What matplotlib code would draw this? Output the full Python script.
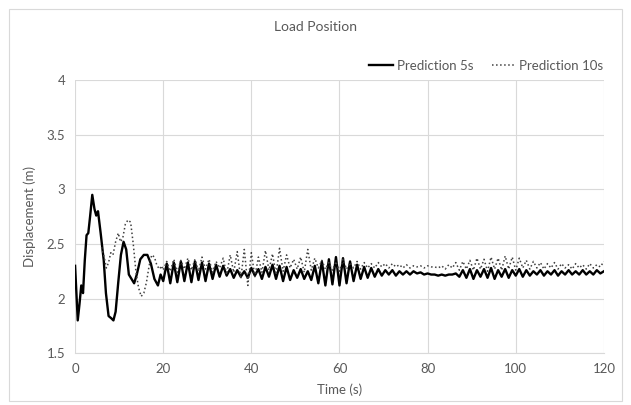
import matplotlib.pyplot as plt
from matplotlib.patches import Rectangle
import numpy as np

# early transient
t5_early = [0, 0.6, 1.0, 1.4, 1.8, 2.2, 2.6, 3.0, 3.4, 3.9, 4.4, 4.8, 5.2, 5.8,
            6.5, 7.0, 7.6, 8.2, 8.7, 9.2, 9.8, 10.4, 11.0, 11.6, 12.2, 12.8,
            13.4, 14.0, 14.8, 15.6, 16.4, 17.2, 18.0, 18.8, 19.4]
y5_early = [2.30, 1.80, 1.95, 2.12, 2.05, 2.35, 2.58, 2.60, 2.75, 2.95, 2.82,
            2.76, 2.80, 2.60, 2.35, 2.05, 1.84, 1.82, 1.80, 1.88, 2.15, 2.40,
            2.52, 2.45, 2.22, 2.18, 2.14, 2.22, 2.36, 2.40, 2.40, 2.32, 2.18,
            2.12, 2.22]

t10_early = [6.0, 6.6, 7.1, 7.6, 8.1, 8.6, 9.2, 9.8, 10.3, 10.8, 11.4, 12.0,
             12.6, 13.2, 13.8, 14.4, 15.0, 15.6, 16.2, 16.8, 17.4, 18.0, 18.6,
             19.2, 19.6]
y10_early = [2.47, 2.38, 2.28, 2.33, 2.42, 2.40, 2.52, 2.60, 2.52, 2.55, 2.68,
             2.72, 2.70, 2.50, 2.25, 2.10, 2.02, 2.05, 2.15, 2.30, 2.40, 2.38,
             2.30, 2.27, 2.30]

# from 20 s on, samples every 0.8 s
t_late = np.linspace(20, 120, 126)
y5_late = [2.16, 2.32, 2.14, 2.33, 2.15, 2.34, 2.16, 2.33, 2.15, 2.34,
           2.17, 2.33, 2.16, 2.32, 2.18, 2.31, 2.20, 2.30, 2.21, 2.27,
           2.19, 2.26, 2.20, 2.25, 2.19, 2.28, 2.21, 2.27, 2.18, 2.29,
           2.20, 2.31, 2.18, 2.30, 2.16, 2.29, 2.17, 2.26, 2.19, 2.27,
           2.18, 2.25, 2.17, 2.30, 2.14, 2.34, 2.12, 2.36, 2.13, 2.38,
           2.12, 2.37, 2.14, 2.34, 2.16, 2.31, 2.18, 2.29, 2.19, 2.28,
           2.20, 2.27, 2.21, 2.26, 2.22, 2.26, 2.21, 2.25, 2.22, 2.25,
           2.22, 2.25, 2.23, 2.24, 2.22, 2.23, 2.22, 2.22, 2.21, 2.22,
           2.21, 2.22, 2.22, 2.23, 2.20, 2.26, 2.19, 2.27, 2.18, 2.26,
           2.20, 2.27, 2.19, 2.28, 2.18, 2.26, 2.20, 2.27, 2.19, 2.26,
           2.21, 2.27, 2.20, 2.26, 2.21, 2.25, 2.22, 2.26, 2.21, 2.25,
           2.22, 2.26, 2.21, 2.25, 2.22, 2.26, 2.22, 2.25, 2.22, 2.26,
           2.22, 2.25, 2.22, 2.26, 2.23, 2.25]
y10_late = [2.26, 2.34, 2.25, 2.36, 2.24, 2.35, 2.27, 2.37, 2.26, 2.36,
            2.25, 2.38, 2.27, 2.36, 2.24, 2.34, 2.28, 2.37, 2.22, 2.40,
            2.24, 2.43, 2.18, 2.45, 2.12, 2.42, 2.20, 2.38, 2.24, 2.44,
            2.26, 2.41, 2.22, 2.46, 2.25, 2.40, 2.28, 2.36, 2.27, 2.38,
            2.24, 2.45, 2.26, 2.37, 2.28, 2.35, 2.27, 2.33, 2.26, 2.34,
            2.25, 2.36, 2.27, 2.33, 2.28, 2.34, 2.27, 2.33, 2.28, 2.32,
            2.28, 2.33, 2.29, 2.32, 2.28, 2.32, 2.29, 2.31, 2.28, 2.31,
            2.28, 2.30, 2.29, 2.30, 2.28, 2.30, 2.29, 2.29, 2.28, 2.30,
            2.27, 2.31, 2.28, 2.33, 2.26, 2.34, 2.27, 2.35, 2.26, 2.37,
            2.27, 2.36, 2.25, 2.38, 2.27, 2.37, 2.26, 2.39, 2.27, 2.38,
            2.26, 2.37, 2.28, 2.35, 2.27, 2.34, 2.28, 2.33, 2.27, 2.32,
            2.28, 2.33, 2.27, 2.32, 2.28, 2.31, 2.27, 2.32, 2.28, 2.31,
            2.27, 2.32, 2.28, 2.31, 2.29, 2.34]

t5 = np.concatenate([t5_early, t_late])
y5 = np.concatenate([y5_early, y5_late])
t10 = np.concatenate([t10_early, t_late])
y10 = np.concatenate([y10_early, y10_late])

xticks = [0, 20, 40, 60, 80, 100, 120]
yticks = [1.5, 2, 2.5, 3, 3.5, 4]
ytick_labels = ['1.5', '2', '2.5', '3', '3.5', '4']

plt.rcParams['font.family'] = ['Lato', 'DejaVu Sans']
txt = '#595959'
grid = '#d9d9d9'

fig = plt.figure(figsize=(6.31, 4.05), dpi=100)
fig.patches.append(Rectangle((0.014, 0.01), 0.972, 0.968, transform=fig.transFigure,
                             fill=False, edgecolor='#d9d9d9', lw=0.8))
ax = fig.add_axes([0.119, 0.128, 0.838, 0.674])

ax.plot(t5, y5, color='black', lw=1.7, label='Prediction 5s')
ax.plot(t10, y10, color='#404040', lw=1.1, linestyle=':', label='Prediction 10s')

ax.set_xlim(0, 120)
ax.set_ylim(1.5, 4)
ax.set_xticks(xticks)
ax.set_yticks(yticks)
ax.set_yticklabels(ytick_labels)
ax.grid(True, color=grid, lw=0.8)
ax.set_axisbelow(True)
for s in ['top', 'right', 'left']:
    ax.spines[s].set_visible(False)
ax.spines['bottom'].set_color(grid)
ax.tick_params(length=0, colors=txt, labelsize=9.5, pad=7)

ax.set_xlabel('Time (s)', color=txt, fontsize=9.5, labelpad=6)
ax.set_ylabel('Displacement (m)', color=txt, fontsize=9.5, labelpad=8)
fig.text(0.5, 0.933, 'Load Position', ha='center', va='center', color=txt, fontsize=10)

fig.legend(loc='center right', bbox_to_anchor=(0.975, 0.838), ncol=2, frameon=False,
           fontsize=9.5, labelcolor=txt, handlelength=1.8, columnspacing=1.4,
           handletextpad=0.3)

plt.savefig('out.png', dpi=100)
